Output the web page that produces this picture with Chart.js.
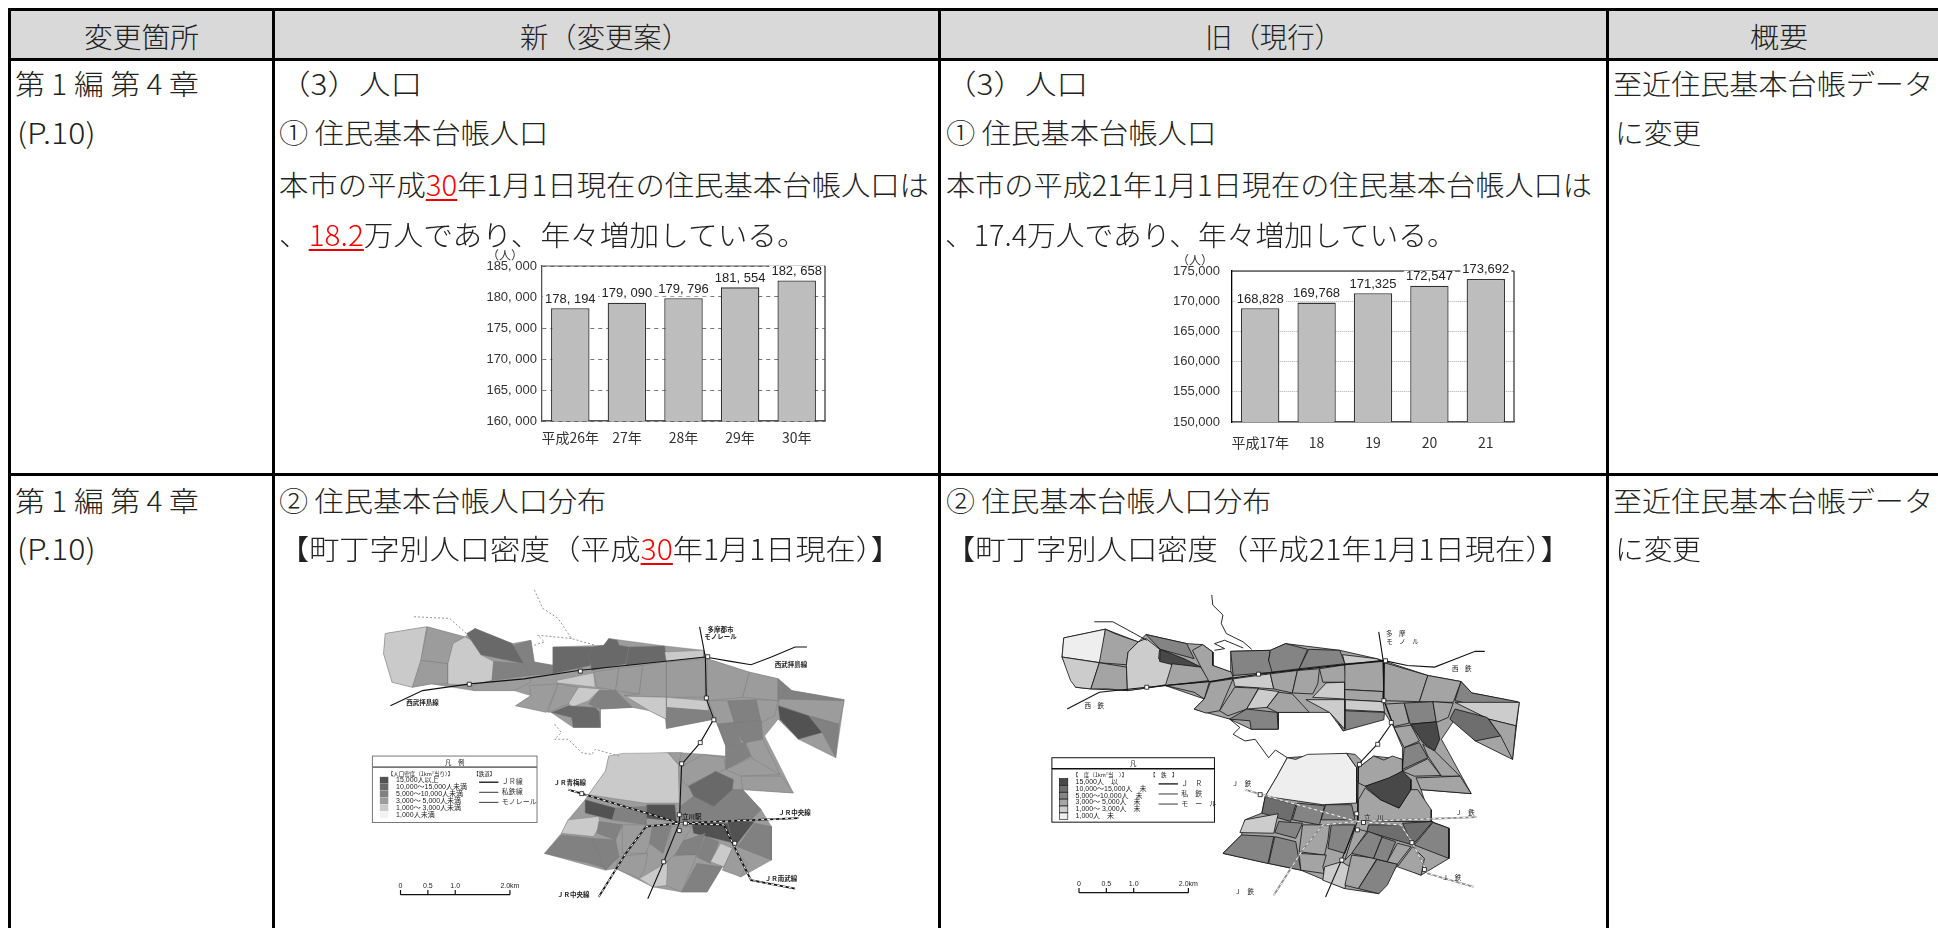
<!DOCTYPE html>
<html lang="ja">
<head>
<meta charset="utf-8">
<title>変更箇所</title>
<script src="https://cdn.jsdelivr.net/npm/chart.js@4"></script>
<style>
html, body { margin: 0; padding: 0; background: #fff; overflow: hidden; }
#page { position: relative; width: 1938px; height: 928px; font-family: "Noto Sans CJK JP", sans-serif; font-weight: 300; color: #222; }
.rule { position: absolute; background: #000; }
.head { position: absolute; background: #d9d9d9; left: 11px; top: 11px; width: 1927px; height: 47px; }
.t { position: absolute; white-space: nowrap; font-size: 28px; line-height: 36px; transform-origin: left center; }
.t u { color: #f00; text-decoration-color: #e00; text-decoration-thickness: 2px; text-underline-offset: 3px; }
canvas { position: absolute; }
#barNew, #barOld { filter: blur(0.45px); }
#mapNew { filter: blur(0.7px); }
#mapOld { filter: blur(0.4px); }
</style>
</head>
<body>
<div id="page">
  <div class="head"></div>
  <canvas id="barNew" width="400" height="215" style="left:460px;top:245px"></canvas>
  <canvas id="barOld" width="400" height="215" style="left:1140px;top:245px"></canvas>
  <canvas id="mapNew" width="540" height="358" style="left:350px;top:570px"></canvas>
  <canvas id="mapOld" width="540" height="358" style="left:1020px;top:570px"></canvas>
</div>
<script>
// bar chart data
const newYears = ['平成26年', '27年', '28年', '29年', '30年'];
const newPopulation = [178194, 179090, 179796, 181554, 182658];
const oldYears = ['平成17年', '18', '19', '20', '21'];
const oldPopulation = [168828, 169768, 171325, 172547, 173692];

// table text: [html, left, centre y, width]
const tableTexts = [
  ['変更箇所', 84, 36, 115], ['新（変更案）', 520, 36, 170], ['旧（現行）', 1205, 36, 137], ['概要', 1750, 36, 58],
  ['第 1 編 第 4 章', 15, 83, 184], ['(P.10)', 17, 132, 79],
  ['（3）人口', 279, 83, 143], ['① 住民基本台帳人口', 279, 132, 269],
  ['本市の平成<u>30</u>年1月1日現在の住民基本台帳人口は', 279, 184, 650],
  ['、<u>18.2</u>万人であり、年々増加している。', 279, 234, 528],
  ['（3）人口', 945, 83, 143], ['① 住民基本台帳人口', 946, 132, 270],
  ['本市の平成21年1月1日現在の住民基本台帳人口は', 946, 184, 646],
  ['、17.4万人であり、年々増加している。', 945, 234, 511],
  ['至近住民基本台帳データ', 1613, 83, 320], ['に変更', 1615, 132, 86],
  ['第 1 編 第 4 章', 15, 500, 184], ['(P.10)', 17, 548, 79],
  ['② 住民基本台帳人口分布', 279, 500, 327],
  ['【町丁字別人口密度（平成<u>30</u>年1月1日現在）】', 279, 548, 622],
  ['② 住民基本台帳人口分布', 946, 500, 325],
  ['【町丁字別人口密度（平成21年1月1日現在）】', 945, 548, 626],
  ['至近住民基本台帳データ', 1613, 500, 320], ['に変更', 1615, 548, 86]
];
// table rules: [left, top, width, height]
const tableRules = [
  [8, 8, 1930, 3], [8, 58, 1930, 3], [8, 473, 1930, 3],
  [8, 8, 3, 920], [272, 8, 3, 920], [938, 8, 3, 920], [1606, 8, 3, 920]
];

const page = document.getElementById('page');
tableRules.forEach(r => {
  const d = document.createElement('div');
  d.className = 'rule';
  d.style.cssText = `left:${r[0]}px;top:${r[1]}px;width:${r[2]}px;height:${r[3]}px`;
  page.appendChild(d);
});
tableTexts.forEach(t => {
  const d = document.createElement('div');
  d.className = 't';
  d.innerHTML = t[0];
  d.style.left = t[1] + 'px';
  d.style.top = t[2] + 'px';
  page.appendChild(d);
  d.style.transform = `translateY(-50%) scaleX(${t[3] / d.offsetWidth})`;
});

Chart.defaults.animation = false;
Chart.defaults.responsive = false;

// bar charts
function barChart(id, cfg) {
  const fmt = v => String(v).slice(0, 3) + cfg.sep + String(v).slice(3);
  const framePlugin = {
    id: 'frame',
    beforeDatasetsDraw(chart) {
      const a = chart.chartArea, c = chart.ctx;
      c.save();
      c.strokeStyle = cfg.topColor;
      c.lineWidth = 1.2;
      c.beginPath(); c.moveTo(a.left, a.top); c.lineTo(a.right, a.top); c.stroke();
      c.strokeStyle = '#555';
      c.lineWidth = 1.5;
      c.beginPath(); c.moveTo(a.right, a.top); c.lineTo(a.right, a.bottom); c.stroke();
      c.restore();
    },
    afterDatasetsDraw(chart) {
      const c = chart.ctx;
      c.save();
      c.font = '13px "Liberation Sans"';
      c.textAlign = 'center';
      c.textBaseline = 'middle';
      chart.getDatasetMeta(0).data.forEach((bar, i) => {
        const s = fmt(cfg.values[i]);
        const w = c.measureText(s).width;
        c.fillStyle = '#fff';
        c.fillRect(bar.x - w / 2 - 2, bar.y - 15, w + 4, 13);
        c.fillStyle = '#222';
        c.fillText(s, bar.x, bar.y - 9);
      });
      c.font = '12px "Noto Sans CJK JP"';
      c.fillStyle = '#333';
      c.fillText('（人）', cfg.unit[0], cfg.unit[1]);
      c.restore();
    }
  };
  return new Chart(document.getElementById(id), {
    type: 'bar',
    data: {
      labels: cfg.labels,
      datasets: [{
        data: cfg.values,
        backgroundColor: '#bdbdbd',
        borderColor: '#333',
        borderWidth: 1.3,
        barPercentage: 0.68,
        categoryPercentage: 1
      }]
    },
    options: {
      layout: { padding: { top: cfg.padTop, right: cfg.padRight, left: 0, bottom: 0 } },
      plugins: { legend: { display: false }, tooltip: { enabled: false } },
      scales: {
        x: {
          afterFit: s => { s.height = cfg.axisH; },
          grid: { display: false },
          border: { color: '#555', width: 1.5 },
          ticks: { color: '#333', padding: cfg.xPad, autoSkip: false, font: { family: '"Noto Sans CJK JP"', size: 14 }, maxRotation: 0 }
        },
        y: {
          min: cfg.min,
          max: cfg.max,
          afterFit: s => { s.width = cfg.axisW; },
          grid: { color: cfg.gridColor, tickLength: 0 },
          border: { color: cfg.leftColor, width: 1.3, dash: cfg.dash },
          ticks: { stepSize: 5000, color: '#333', padding: cfg.yPad, callback: fmt, font: { family: '"Liberation Sans"', size: 13 } }
        }
      }
    },
    plugins: [framePlugin]
  });
}

barChart('barNew', {
  labels: newYears, values: newPopulation, min: 160000, max: 185000, sep: ', ',
  padTop: 21, padRight: 35, axisW: 82, axisH: 39, xPad: 0, yPad: 5,
  gridColor: '#777', leftColor: '#555', topColor: '#555', dash: [4, 4], unit: [45, 10]
});
barChart('barOld', {
  labels: oldYears, values: oldPopulation, min: 150000, max: 175000, sep: ',',
  padTop: 26, padRight: 26, axisW: 92, axisH: 38, xPad: 4, yPad: 12,
  gridColor: '#aaa', leftColor: '#000', topColor: '#111', dash: [1, 1], unit: [55, 15]
});

// maps: each district is [density class, x, y, x, y, ...] in map units
const mapNewDistricts = [
  [4, 90,175, 212,155, 325,185, 355,160, 465,205, 520,195, 530,260, 585,270, 585,215, 735,210, 750,190, 915,212, 1030,225, 1040,250, 1165,290, 1250,310, 1290,345, 1445,372, 1420,545, 1310,490, 1250,430, 1210,480, 1295,650, 1145,640, 1200,700, 1230,750, 1230,850, 1140,900, 1085,870, 1040,945, 965,945, 880,930, 770,875, 740,880, 560,830, 610,770, 630,730, 680,670, 690,655, 740,585, 750,540, 925,530, 965,530, 1030,535, 1095,540, 1095,510, 1070,445, 1060,430, 920,458, 918,430, 870,405, 820,395, 725,400, 725,455, 645,455, 580,410, 475,390, 520,360, 470,345, 350,345, 225,325, 170,335, 110,320, 85,235],
  [5, 90,175, 212,155, 195,255, 170,335, 110,320, 85,235],
  [4, 215,155, 325,185, 290,205, 275,265, 195,255],
  [4, 195,255, 275,265, 275,325, 225,325, 170,335],
  [5, 325,185, 375,210, 372,238, 410,258, 405,315, 345,330, 275,325, 275,265, 290,205],
  [2, 330,175, 355,160, 465,205, 500,265, 372,238],
  [3, 410,258, 500,265, 515,300, 405,315],
  [4, 345,330, 405,315, 515,300, 520,320, 470,345, 350,345],
  [3, 470,210, 520,195, 530,260, 590,270, 585,295, 515,300, 500,265],
  [2, 585,215, 700,215, 695,270, 585,295],
  [2, 700,215, 735,210, 750,190, 775,195, 780,210, 810,215, 800,265, 700,285, 690,240],
  [2, 810,215, 915,212, 920,255, 800,270],
  [5, 915,230, 1030,225, 1030,245, 920,260],
  [5, 595,315, 705,292, 710,335, 600,322],
  [4, 705,290, 780,278, 770,345, 715,335],
  [4, 780,278, 850,270, 840,355, 770,345],
  [4, 850,270, 920,258, 920,365, 795,360, 840,355],
  [4, 920,260, 1035,250, 1035,365, 920,365],
  [4, 1040,250, 1165,290, 1145,365, 1040,375],
  [4, 1165,290, 1250,310, 1250,375, 1145,365],
  [3, 1250,310, 1290,345, 1445,372, 1415,400, 1250,370],
  [4, 1255,370, 1445,375, 1430,445, 1340,420, 1250,388],
  [5, 1040,375, 1045,405, 920,395, 920,365],
  [3, 920,395, 1045,405, 1060,430, 920,458, 918,430],
  [5, 800,362, 920,365, 920,430, 870,405],
  [3, 720,345, 770,345, 820,395, 725,400, 690,385],
  [5, 660,335, 725,340, 690,375, 640,395, 630,380],
  [4, 600,325, 660,335, 630,385, 570,410],
  [4, 515,330, 600,325, 565,410, 475,390, 520,360],
  [2, 580,410, 630,390, 710,395, 722,408, 725,455, 645,455, 640,425],
  [3, 1100,375, 1185,372, 1200,435, 1120,440],
  [4, 1045,375, 1100,375, 1120,440, 1070,445],
  [4, 1185,372, 1250,375, 1240,420, 1200,440],
  [1, 1250,390, 1340,420, 1380,470, 1310,490, 1255,430],
  [3, 1340,420, 1430,445, 1420,545, 1380,470],
  [3, 1070,445, 1120,440, 1140,500, 1095,510],
  [3, 1120,440, 1200,435, 1205,490, 1155,505, 1140,490],
  [3, 1095,510, 1150,500, 1170,540, 1095,580],
  [4, 1155,500, 1205,490, 1255,595, 1210,590, 1170,540],
  [4, 1095,580, 1170,545, 1255,595, 1140,600],
  [4, 1140,600, 1260,600, 1295,650, 1145,640],
  [5, 750,540, 790,532, 925,530, 955,565, 958,680, 855,680, 690,655, 740,585],
  [4, 925,530, 965,530, 955,565],
  [4, 965,570, 1030,535, 1090,545, 1095,580, 1040,600, 980,630, 960,600],
  [3, 960,690, 1000,660, 1060,690, 1115,640, 1145,640, 1200,700, 1170,730, 960,735],
  [2, 985,630, 1040,600, 1065,585, 1118,610, 1115,640, 1060,690, 1000,660],
  [1, 680,670, 770,695, 760,730, 680,710],
  [3, 770,695, 860,690, 860,745, 760,730],
  [1, 862,685, 945,685, 950,735, 862,725],
  [5, 630,730, 720,720, 725,745, 705,780, 610,770],
  [3, 720,735, 790,745, 770,790, 715,770],
  [3, 610,775, 700,785, 740,875, 695,860, 560,830],
  [3, 700,785, 770,790, 780,840, 740,880],
  [4, 790,745, 880,745, 870,800, 860,830, 790,830],
  [3, 880,745, 935,745, 910,830, 870,800],
  [1, 995,740, 1100,740, 1120,800, 1000,770],
  [1, 1100,735, 1180,735, 1130,800, 1115,795],
  [3, 1180,740, 1230,750, 1230,850, 1130,810],
  [4, 780,840, 865,830, 855,880, 840,905, 770,875],
  [5, 840,905, 925,855, 925,925, 880,930],
  [4, 925,840, 1010,830, 1000,860, 965,945, 920,925],
  [3, 1010,860, 1085,870, 1040,945, 965,945],
  [3, 950,800, 1035,770, 1010,835, 940,835],
  [3, 1035,780, 1075,795, 1050,860, 1010,840],
  [5, 1080,800, 1115,815, 1090,870, 1050,855],
  [4, 1115,815, 1160,860, 1140,900, 1085,880],
  [4, 935,750, 995,750, 945,835, 915,860]
];
const mapOldDistricts = [
  [4, 115,188, 238,162, 335,200, 358,178, 478,205, 525,208, 555,230, 555,270, 608,290, 608,228, 725,225, 770,205, 930,225, 1040,250, 1190,300, 1288,318, 1320,352, 1460,380, 1440,550, 1330,495, 1270,430, 1230,490, 1318,652, 1170,640, 1200,735, 1252,755, 1252,845, 1170,895, 1100,865, 1045,950, 945,935, 815,880, 720,860, 585,830, 640,775, 650,730, 700,710, 710,660, 745,600, 775,545, 950,532, 985,575, 1030,540, 1115,550, 1115,515, 1090,455, 1062,410, 940,465, 900,410, 840,410, 748,410, 748,460, 668,460, 605,430, 500,400, 530,370, 415,330, 303,345, 195,340, 150,335, 110,245],
  [6, 115,188, 238,162, 225,262, 110,245],
  [5, 110,245, 220,262, 195,340, 150,335, 135,315],
  [4, 238,162, 265,175, 335,200, 305,230, 300,268, 220,262],
  [4, 220,262, 300,275, 303,345, 245,340, 195,340],
  [5, 335,200, 358,190, 398,222, 395,250, 435,265, 430,325, 375,335, 303,345, 300,268, 305,230],
  [3, 358,178, 478,205, 500,250, 400,222],
  [1, 400,222, 470,250, 520,275, 465,275, 398,258],
  [4, 435,265, 520,275, 545,315, 415,330],
  [4, 415,330, 545,318, 530,370, 500,350],
  [4, 495,225, 525,208, 555,230, 555,270, 610,290, 615,305, 545,320, 520,275],
  [4, 500,400, 530,370, 548,320, 615,310, 575,405, 535,412],
  [3, 608,228, 725,225, 720,255, 735,290, 615,300],
  [3, 725,225, 770,205, 835,222, 810,280, 730,290, 720,255],
  [3, 838,222, 930,225, 945,265, 810,280],
  [5, 938,238, 1040,250, 1055,258, 945,265],
  [5, 615,310, 725,295, 735,340, 620,332],
  [4, 725,295, 805,285, 790,352, 735,340],
  [4, 805,285, 870,280, 865,325, 850,355, 790,352],
  [4, 870,280, 945,268, 948,320, 880,320],
  [5, 890,322, 945,320, 945,370, 850,365],
  [4, 945,268, 1058,258, 1060,348, 945,342],
  [4, 945,342, 1060,348, 1058,378, 945,372],
  [5, 945,372, 1058,378, 1062,408, 945,402],
  [3, 945,405, 1062,410, 1060,432, 940,465, 920,430],
  [5, 830,372, 945,372, 945,460, 900,410],
  [4, 620,335, 690,338, 655,400, 600,420, 575,405],
  [5, 690,340, 750,348, 715,395, 655,400],
  [4, 750,350, 790,355, 840,410, 745,410, 715,395],
  [3, 605,430, 655,400, 745,410, 748,460, 668,460, 665,435],
  [4, 1062,262, 1190,300, 1165,378, 1060,375],
  [4, 1190,300, 1288,318, 1265,380, 1165,378],
  [3, 1288,318, 1320,352, 1455,378, 1425,410, 1270,375],
  [5, 1270,380, 1460,380, 1450,450, 1370,430],
  [2, 1270,400, 1365,425, 1405,480, 1330,495, 1255,430],
  [4, 1370,430, 1450,450, 1440,550, 1405,480],
  [4, 1065,385, 1120,382, 1135,442, 1090,452],
  [3, 1120,382, 1205,378, 1215,438, 1138,445],
  [4, 1205,378, 1265,382, 1250,425, 1215,440],
  [1, 1140,445, 1215,438, 1225,490, 1210,525, 1175,500],
  [4, 1090,455, 1140,448, 1165,495, 1120,515],
  [3, 1120,515, 1165,500, 1190,545, 1115,580],
  [4, 1175,505, 1210,525, 1285,600, 1230,600, 1190,540],
  [4, 1115,585, 1190,548, 1228,598, 1150,600],
  [4, 1155,605, 1285,600, 1318,652, 1170,640],
  [6, 775,545, 800,550, 835,535, 950,532, 980,575, 980,680, 880,685, 710,660, 745,600],
  [4, 950,532, 975,535, 995,555, 980,575],
  [4, 985,575, 1030,540, 1060,552, 1085,540, 1115,550, 1115,585, 1080,605, 1005,630, 985,620],
  [4, 1005,635, 1050,670, 1105,695, 1140,640, 1160,640, 1200,700, 1200,735, 985,735, 985,670],
  [1, 1005,630, 1075,605, 1115,585, 1140,610, 1140,640, 1105,695, 1050,670],
  [2, 710,660, 800,685, 785,735, 700,710],
  [3, 805,680, 885,688, 870,745, 790,730],
  [3, 888,685, 965,685, 975,730, 875,730],
  [5, 650,730, 748,712, 735,770, 635,768],
  [3, 750,735, 820,740, 800,785, 738,768],
  [3, 640,775, 735,780, 718,860, 585,830],
  [3, 738,780, 800,795, 815,880, 720,860],
  [4, 820,745, 900,745, 895,790, 885,835, 810,825],
  [3, 905,745, 975,745, 945,830, 895,815],
  [2, 1015,745, 1110,745, 1145,805, 1010,765],
  [2, 1115,740, 1205,735, 1145,805],
  [3, 1205,738, 1252,755, 1252,845, 1150,805],
  [4, 810,830, 890,835, 880,870, 885,890, 815,880],
  [5, 885,870, 935,855, 960,870, 945,935, 880,910],
  [4, 965,835, 1040,845, 985,935, 945,925],
  [3, 1040,848, 1100,862, 1070,925, 1045,950, 985,935],
  [3, 970,820, 1015,765, 1055,780, 1030,845, 965,830],
  [3, 1055,782, 1095,795, 1070,855, 1030,845],
  [4, 1100,800, 1140,810, 1100,862, 1070,855],
  [4, 1145,810, 1180,845, 1170,895, 1100,870],
  [4, 975,755, 1010,765, 965,830, 945,850]
];
// city boundary lines, rail lines and stations in map units
const mapNewBoundary = [
  [175,125, 280,130, 330,175], [530,45, 555,100, 600,130, 640,190, 710,210],
  [530,210, 560,200, 540,180, 640,190], [590,445, 610,470, 590,490, 630,490, 670,530, 700,535, 710,520, 780,540]
];
const mapNewPrivate = [
  [105,390, 200,345, 340,325, 500,310, 660,285, 1035,245, 1110,258, 1170,268, 1230,245, 1300,215, 1335,215],
  [1018,155, 1035,245, 1038,370, 1060,430, 1020,500, 965,565, 958,740, 910,860, 865,965]
];
const mapNewJr = [
  [630,640, 670,652, 960,740, 1310,725], [720,960, 800,830, 860,750, 960,740],
  [960,740, 1090,745, 1130,830, 1170,910, 1300,935]
];
const mapNewStations = [[338,326], [666,287], [1042,244], [1038,367], [1060,432], [1020,500], [965,563], [670,652], [958,715], [976,740], [958,762], [912,855], [1122,800]];
const mapOldBoundary = [
  [205,140, 260,140, 360,195], [552,60, 555,90, 585,120, 580,145, 595,175, 645,200, 670,222],
  [560,225, 590,220, 560,205, 590,195, 645,218], [605,430, 635,455, 615,475, 650,495, 680,490, 720,545, 740,522, 775,545]
];
const mapOldPrivate = [
  [125,400, 220,350, 360,335, 545,318, 700,295, 1058,255, 1130,270, 1210,275, 1260,255, 1330,228, 1358,228],
  [1045,170, 1058,255, 1060,375, 1085,440, 1040,505, 985,565, 982,735, 935,850, 888,960]
];
const mapOldJr = [
  [650,640, 700,655, 982,735, 1335,722], [735,955, 820,820, 880,745, 982,735],
  [982,735, 1110,745, 1145,800, 1190,890, 1325,930]
];
const mapOldStations = [[360,335], [690,296], [1065,256], [1060,375], [1082,440], [1042,505], [988,565], [695,655], [980,712], [1000,738], [982,760], [936,850], [1143,798], [1180,878]];

const mapNewColors = ['#fff', '#525252', '#696969', '#818181', '#9c9c9c', '#cacaca', '#f2f2f2'];
const mapOldColors = ['#fff', '#484848', '#6e6e6e', '#848484', '#a4a4a4', '#cccccc', '#eeeeee'];

// map text: [text, x, y]
const mapNewLabels = [
  ['多摩都市', 1080,162], ['モノレール', 1080,184], ['西武拝島線', 1288,268], ['西武拝島線', 200,382],
  ['ＪＲ青梅線', 635,620], ['ＪＲ中央線', 1298,707], ['立川駅', 995,720], ['ＪＲ南武線', 1258,905], ['ＪＲ中央線', 645,952]
];
const mapOldLabels = [
  ['多　摩', 1095,176], ['モ　ノ　ル', 1115,198], ['西　鉄', 1290,280], ['西　鉄', 205,390],
  ['Ｊ　鉄', 640,622], ['Ｊ　鉄', 1300,707], ['立　川', 1030,722], ['Ｊ　鉄', 1260,902], ['Ｊ　鉄', 648,945]
];
const legendNewClasses = ['15,000人以上', '10,000〜15,000人未満', '5,000〜10,000人未満', '3,000〜 5,000人未満', '1,000〜 3,000人未満', '1,000人未満'];
const legendOldClasses = ['15,000人　以', '10,000〜15,000人　未', '5,000〜10,000人　未', '3,000〜 5,000人　未', '1,000〜 3,000人　未', '1,000人　未'];
const legendNewRails = ['ＪＲ線', '私鉄線', 'モノレール'];
const legendOldRails = ['Ｊ　Ｒ', '私　鉄', 'モ　ー　ル'];
const scaleTicks = [[0, '0'], [0.5, '0.5'], [1, '1.0'], [2, '2.0km']];

const pairs = flat => {
  const pts = [];
  for (let i = 0; i < flat.length; i += 2) pts.push({ x: flat[i], y: flat[i + 1] });
  return pts;
};
const lineSet = (flat, color, width, dash) => ({
  data: pairs(flat), showLine: true, fill: false, pointRadius: 0, borderColor: color, borderWidth: width, borderDash: dash || []
});

function mapChart(id, cfg) {
  const datasets = cfg.districts.map(d => {
    const pts = pairs(d.slice(1));
    pts.push(pts[0]);
    return { data: pts, showLine: true, fill: 'shape', backgroundColor: cfg.colors[d[0]], borderColor: cfg.outline, borderWidth: cfg.outlineW, pointRadius: 0 };
  });
  cfg.boundary.forEach(b => datasets.push(lineSet(b, cfg.boundaryColor, 0.9, cfg.boundaryDash)));
  cfg.rails.forEach(b => datasets.push(lineSet(b, '#111', 1.1)));
  cfg.jr.forEach(b => { datasets.push(lineSet(b, cfg.jrColor, 1.8)); datasets.push(lineSet(b, '#fff', 1, [3, 3])); });
  datasets.push({
    data: cfg.stations.map(s => ({ x: s[0], y: s[1] })), showLine: false, pointStyle: 'rect',
    pointRadius: 2.8, pointBackgroundColor: '#fff', pointBorderColor: '#111', pointBorderWidth: 0.8
  });
  datasets.reverse(); // chart.js paints the first dataset last
  const decor = {
    id: 'decor',
    afterDatasetsDraw(chart) {
      const c = chart.ctx, X = chart.scales.x, Y = chart.scales.y;
      const px = v => X.getPixelForValue(v), py = v => Y.getPixelForValue(v);
      c.save();
      c.textBaseline = 'middle';
      c.fillStyle = '#222';
      c.font = cfg.labelFont;
      c.textAlign = 'center';
      cfg.labels.forEach(l => c.fillText(l[0], px(l[1]), py(l[2])));
      // legend box
      const L = cfg.legend;
      c.fillStyle = '#fff';
      c.fillRect(px(L.x0), py(L.y0), px(L.x1) - px(L.x0), py(L.y1) - py(L.y0));
      c.strokeStyle = L.edge;
      c.lineWidth = 1;
      c.strokeRect(px(L.x0), py(L.y0), px(L.x1) - px(L.x0), py(L.y1) - py(L.y0));
      c.lineWidth = 1.6;
      c.beginPath(); c.moveTo(px(L.x0), py(L.y0 + 33)); c.lineTo(px(L.x1), py(L.y0 + 33)); c.stroke();
      c.fillStyle = '#222';
      c.font = '6.5px "Noto Sans CJK JP"';
      c.textAlign = 'center';
      c.fillText(L.title, px((L.x0 + L.x1) / 2), py(L.y0 + 18));
      c.font = '5.5px "Noto Sans CJK JP"';
      c.fillText(L.head1, px(L.x0 + 142), py(L.y0 + 52));
      c.fillText(L.head2, px(L.x0 + 330), py(L.y0 + 52));
      c.textAlign = 'left';
      c.font = '7px "Liberation Sans", "Noto Sans CJK JP"';
      cfg.classes.forEach((t, i) => {
        const y = L.y0 + 72 + i * 20.5;
        c.fillStyle = cfg.colors[i + 1];
        c.fillRect(px(L.x0 + 22), py(y - 10), px(25) - px(0), py(20) - py(0));
        if (L.swatchEdge) { c.strokeStyle = '#111'; c.lineWidth = 0.6; c.strokeRect(px(L.x0 + 22), py(y - 10), px(25) - px(0), py(20) - py(0)); }
        c.fillStyle = '#222';
        c.fillText(t, px(L.x0 + 70), py(y));
      });
      cfg.railNames.forEach((t, i) => {
        const y = L.y0 + 78 + i * 30;
        c.strokeStyle = '#222';
        c.lineWidth = i === 0 ? 1.4 : 0.9;
        c.beginPath(); c.moveTo(px(L.x0 + 315), py(y)); c.lineTo(px(L.x0 + 372), py(y)); c.stroke();
        c.fillStyle = '#333';
        c.fillText(t, px(L.x0 + 382), py(y));
      });
      // scale bar
      const S = cfg.bar, unit = (S.x1 - S.x0) / 2;
      c.strokeStyle = '#111';
      c.lineWidth = 1.2;
      c.beginPath();
      c.moveTo(px(S.x0), py(S.y)); c.lineTo(px(S.x1), py(S.y));
      scaleTicks.forEach(t => { c.moveTo(px(S.x0 + t[0] * unit), py(S.y)); c.lineTo(px(S.x0 + t[0] * unit), py(S.y - 14)); });
      c.stroke();
      c.textAlign = 'center';
      c.font = '7px "Liberation Sans"';
      c.fillStyle = '#222';
      scaleTicks.forEach(t => c.fillText(t[1], px(S.x0 + t[0] * unit), py(S.y - 26)));
      c.restore();
    }
  };
  return new Chart(document.getElementById(id), {
    type: 'scatter',
    data: { datasets },
    options: {
      layout: { padding: 0 },
      plugins: { legend: { display: false }, tooltip: { enabled: false } },
      scales: {
        x: { type: 'linear', min: 0, max: 1566, display: false },
        y: { type: 'linear', min: 0, max: 1038, reverse: true, display: false }
      }
    },
    plugins: [decor]
  });
}

mapChart('mapNew', {
  districts: mapNewDistricts, colors: mapNewColors, outline: '#777', outlineW: 0.4,
  boundary: mapNewBoundary, boundaryColor: '#888', boundaryDash: [2, 2],
  rails: mapNewPrivate, jr: mapNewJr, jrColor: '#111', stations: mapNewStations,
  labels: mapNewLabels, labelFont: 'bold 6.5px "Noto Sans CJK JP"',
  classes: legendNewClasses, railNames: legendNewRails,
  legend: { x0: 52, y0: 540, x1: 538, y1: 738, edge: '#777', title: '凡　例', head1: '【人口密度（1km²当り）】', head2: '【鉄道】' },
  bar: { x0: 135, x1: 458, y: 953 }
});
mapChart('mapOld', {
  districts: mapOldDistricts, colors: mapOldColors, outline: '#111', outlineW: 0.8,
  boundary: mapOldBoundary, boundaryColor: '#111', boundaryDash: [],
  rails: mapOldPrivate, jr: mapOldJr, jrColor: '#888', stations: mapOldStations,
  labels: mapOldLabels, labelFont: '6.5px "Noto Sans CJK JP"',
  classes: legendOldClasses, railNames: legendOldRails,
  legend: { x0: 80, y0: 545, x1: 560, y1: 737, edge: '#111', swatchEdge: true, title: '凡', head1: '【　度（1km²当　）】', head2: '【　鉄　】' },
  bar: { x0: 160, x1: 483, y: 947 }
});
</script>
</body>
</html>
